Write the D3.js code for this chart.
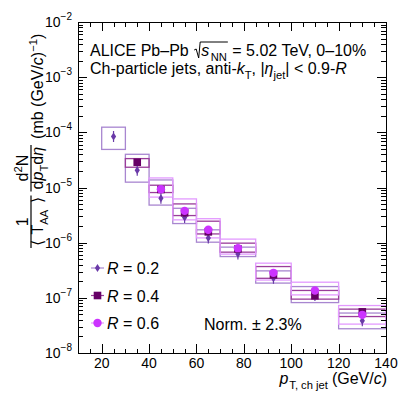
<!DOCTYPE html>
<html>
<head>
<meta charset="utf-8">
<script src="https://cdn.jsdelivr.net/npm/d3@7"></script>
<style>
  body { margin: 0; background: #fff; }
  svg { font-family: "Liberation Sans", Arial, sans-serif; }
  svg text { white-space: pre; }
  .axis path, .axis line { stroke: #000; shape-rendering: crispEdges; }
</style>
</head>
<body>
<script>
// jet pT bins (GeV/c)
var binLo = [20, 30, 40, 50, 60, 70, 85, 100, 120]
var binHi = [30, 40, 50, 60, 70, 85, 100, 120, 140]

// R = 0.2 : value, systematic box low / high
var r02   = [8.4e-5, 2.05e-5, 6.4e-6, 2.85e-6, 1.22e-6, 6.2e-7, 2.26e-7, 1.1e-7, 3.85e-8]
var r02Lo = [4.9e-5, 1.25e-5, 4.8e-6, 2.22e-6, 1.02e-6, 5.6e-7, 1.85e-7, 8.2e-8, 2.75e-8]
var r02Hi = [1.24e-4, 4.0e-5, 1.37e-5, 4.2e-6, 1.71e-6, 8.3e-7, 3.08e-7, 1.6e-7, 5.3e-8]

// R = 0.4
var r04   = [null, 2.87e-5, 9.2e-6, 3.47e-6, 1.57e-6, 7.7e-7, 2.61e-7, 1.09e-7, 5.57e-8]
var r04Lo = [null, 2.33e-5, 8.1e-6, 3.1e-6, 1.44e-6, 6.73e-7, 2.26e-7, 9.47e-8, 4.58e-8]
var r04Hi = [null, 3.34e-5, 1.1e-5, 5.04e-6, 2.45e-6, 9.8e-7, 3.69e-7, 1.36e-7, 6.24e-8]

// R = 0.6
var r06   = [null, null, 9.3e-6, 3.77e-6, 1.71e-6, 7.95e-7, 2.84e-7, 1.36e-7, 4.92e-8]
var r06Lo = [null, null, 6.7e-6, 2.59e-6, 1.22e-6, 6.2e-7, 2.1e-7, 1.13e-7, 3.34e-8]
var r06Hi = [null, null, 1.49e-5, 6.21e-6, 2.72e-6, 1.16e-6, 4.25e-7, 1.92e-7, 7.25e-8]

var xMajor = [20, 40, 60, 80, 100, 120, 140]
var yDecades = [-8, -7, -6, -5, -4, -3, -2]
var legendLabels = ["0.2", "0.4", "0.6"]

var width = 407, height = 397
var margin = {top: 22, right: 21, bottom: 44, left: 78}
var x0 = margin.left, x1 = width - margin.right
var y0 = height - margin.bottom, y1 = margin.top

var x = d3.scaleLinear().domain([10, 140]).range([x0, x1])
var y = d3.scaleLog().domain([1e-8, 1e-2]).range([y0, y1])

var svg = d3.select("body").append("svg")
    .attr("width", width)
    .attr("height", height)

// rich text: sequence of segments, returns width
function rich(g, xs, ys, segs, size) {
  var cx = xs
  segs.forEach(function(s) {
    var fs = (s.sub || s.sup) ? size * 0.7 : size
    var dy = s.sub ? size * 0.32 : (s.sup ? -size * 0.4 : 0)
    var t = g.append("text")
      .attr("x", cx).attr("y", ys + dy)
      .attr("xml:space", "preserve")
      .style("font-size", fs + "px")
      .style("font-style", s.i ? "italic" : "normal")
      .text(s.t)
    s.x = cx
    s.w = t.node().getComputedTextLength()
    cx += s.w + (s.gap || 0)
  })
  return cx - xs
}

// ---- systematic boxes
var series = [
  {v: r02, lo: r02Lo, hi: r02Hi, col: "#6a3aa8", box: "#a886d0", shape: "diamond"},
  {v: r04, lo: r04Lo, hi: r04Hi, col: "#660066", box: "#9a3d9a", shape: "square"},
  {v: r06, lo: r06Lo, hi: r06Hi, col: "#cc33ff", box: "#e39aff", shape: "circle"}
]

series.forEach(function(s) {
  var idx = d3.range(binLo.length).filter(function(i) { return s.v[i] != null })
  svg.append("g").selectAll("rect")
    .data(idx).enter().append("rect")
    .attr("x", function(i) { return x(binLo[i]) })
    .attr("width", function(i) { return x(binHi[i]) - x(binLo[i]) })
    .attr("y", function(i) { return y(s.hi[i]) })
    .attr("height", function(i) { return y(s.lo[i]) - y(s.hi[i]) })
    .attr("fill", "none")
    .attr("stroke", s.box)
    .attr("stroke-width", 1.3)
})

function drawMarker(g, shape, cx, cy, col) {
  if (shape == "diamond") {
    g.append("line").attr("x1", cx).attr("x2", cx).attr("y1", cy - 5.5).attr("y2", cy + 5.5)
      .attr("stroke", col).attr("stroke-width", 1.2)
    g.append("path").attr("d", "M" + cx + "," + (cy - 4) + "L" + (cx + 2.6) + "," + cy +
      "L" + cx + "," + (cy + 4) + "L" + (cx - 2.6) + "," + cy + "Z").attr("fill", col)
  } else if (shape == "square") {
    g.append("rect").attr("x", cx - 3.8).attr("y", cy - 3.8).attr("width", 7.6).attr("height", 7.6)
      .attr("fill", col)
  } else {
    g.append("circle").attr("cx", cx).attr("cy", cy).attr("r", 4.2).attr("fill", col)
  }
}

series.forEach(function(s) {
  var g = svg.append("g")
  binLo.forEach(function(lo, i) {
    if (s.v[i] == null) return
    drawMarker(g, s.shape, x((lo + binHi[i]) / 2), y(s.v[i]), s.col)
  })
})

// ---- axes (ticks inside the frame)
var xMinor = d3.range(10, 141, 5).filter(function(d) { return xMajor.indexOf(d) < 0 })
var yMajor = yDecades.map(function(e) { return Math.pow(10, e) })
var yMinor = []
yDecades.slice(0, -1).forEach(function(e) {
  for (var k = 2; k < 10; k++) yMinor.push(k * Math.pow(10, e))
})

function addAxis(axis, tr) {
  svg.append("g").attr("class", "axis").attr("transform", tr).call(axis)
}
addAxis(d3.axisBottom(x).tickValues(xMinor).tickSize(-4.5).tickSizeOuter(0).tickFormat(""), "translate(0," + y0 + ")")
addAxis(d3.axisBottom(x).tickValues(xMajor).tickSize(-9).tickSizeOuter(0).tickFormat(""), "translate(0," + y0 + ")")
addAxis(d3.axisTop(x).tickValues(xMinor).tickSize(-4.5).tickSizeOuter(0).tickFormat(""), "translate(0," + y1 + ")")
addAxis(d3.axisTop(x).tickValues(xMajor).tickSize(-9).tickSizeOuter(0).tickFormat(""), "translate(0," + y1 + ")")
addAxis(d3.axisLeft(y).tickValues(yMinor).tickSize(-5).tickSizeOuter(0).tickFormat(""), "translate(" + x0 + ",0)")
addAxis(d3.axisLeft(y).tickValues(yMajor).tickSize(-9).tickSizeOuter(0).tickFormat(""), "translate(" + x0 + ",0)")
addAxis(d3.axisRight(y).tickValues(yMinor).tickSize(-5).tickSizeOuter(0).tickFormat(""), "translate(" + x1 + ",0)")
addAxis(d3.axisRight(y).tickValues(yMajor).tickSize(-9).tickSizeOuter(0).tickFormat(""), "translate(" + x1 + ",0)")
svg.selectAll(".axis .domain").attr("stroke-width", 1.2)

// tick labels
svg.append("g").selectAll("text")
  .data(xMajor).enter().append("text")
  .attr("x", function(d) { return x(d) })
  .attr("y", 368)
  .attr("text-anchor", "middle")
  .style("font-size", "14px")
  .text(function(d) { return d })

var yl = svg.append("g").selectAll("text")
  .data(yDecades).enter().append("text")
  .attr("x", 72)
  .attr("y", function(e) { return y(Math.pow(10, e)) + 5 })
  .attr("text-anchor", "end")
  .style("font-size", "14px")
yl.append("tspan").text("10")
yl.append("tspan").attr("dy", -7).style("font-size", "10px").text(function(e) { return "\u2212" + (-e) })

// x axis title
var xt = svg.append("g")
var xw = rich(xt, 0, 384, [
  {t: "p", i: true, gap: 1}, {t: "T, ch jet", sub: true, gap: 4}, {t: "(GeV/"}, {t: "c", i: true}, {t: ")"}
], 16)
xt.attr("transform", "translate(" + (x1 + 1 - xw) + ",0)")

// y axis title (rotated)
var yt = svg.append("g").attr("transform", "translate(43,248) rotate(-90)")
function frac(g, xs, num, den, size) {
  var gn = g.append("g"), gd = g.append("g")
  var wn = rich(gn, 0, -15, num, size)
  var wd = rich(gd, 0, 0, den, size)
  var w = Math.max(wn, wd) + 4
  gn.attr("transform", "translate(" + (xs + (w - wn) / 2) + ",0)")
  gd.attr("transform", "translate(" + (xs + (w - wd) / 2) + ",0)")
  g.append("line").attr("x1", xs).attr("x2", xs + w).attr("y1", -12).attr("y2", -12)
    .attr("stroke", "#000").attr("stroke-width", 1.2)
  return w
}
var w1 = frac(yt, 0, [{t: "1"}], [{t: "\u27E8 ", gap: 1}, {t: "T"}, {t: "AA", sub: true, gap: 2}, {t: " \u27E9"}], 16)
var w2 = frac(yt, w1 + 4, [{t: "d"}, {t: "2", sup: true}, {t: "N"}],
  [{t: "d"}, {t: "p", i: true}, {t: "T", sub: true}, {t: "d"}, {t: "\u03B7", i: true}], 16)
rich(yt, w1 + w2 + 10, 0, [{t: "(mb (GeV/"}, {t: "c", i: true}, {t: ")"}, {t: "\u22121", sup: true}, {t: ")"}], 16)

// header text
var ht = svg.append("g")
var hx = 90 + rich(ht, 90, 56, [{t: "ALICE Pb\u2013Pb "}], 16)
var rootStart = hx
hx += 8
var rw = rich(ht, hx, 56, [{t: "s", i: true, gap: 1.5}, {t: "NN", sub: true}], 16)
ht.append("path")
  .attr("d", "M" + (rootStart + 1) + ",50 L" + (rootStart + 3) + ",49 L" + (rootStart + 5.5) + ",58 L" +
    (rootStart + 7) + ",42 L" + (hx + rw + 1) + ",42")
  .attr("fill", "none").attr("stroke", "#000").attr("stroke-width", 1)
rich(ht, hx + rw + 1, 56, [{t: " = 5.02 TeV, 0\u201310%"}], 16)

rich(ht, 90, 74, [
  {t: "Ch-particle jets, anti-"}, {t: "k", i: true}, {t: "T", sub: true}, {t: ", |"},
  {t: "\u03B7", i: true}, {t: "jet", sub: true}, {t: "| < 0.9-"}, {t: "R", i: true}
], 16)

// legend
var lg = svg.append("g")
series.forEach(function(s, i) {
  var ly = 268 + i * 27.5
  lg.append("line").attr("x1", 91).attr("x2", 104).attr("y1", ly).attr("y2", ly)
    .attr("stroke", s.box).attr("stroke-width", 1.2)
  if (s.shape == "diamond") {
    lg.append("path").attr("d", "M97.5," + (ly - 4) + "L100.1," + ly + "L97.5," + (ly + 4) + "L94.9," + ly + "Z")
      .attr("fill", s.col)
  } else {
    drawMarker(lg, s.shape, 97.5, ly, s.col)
  }
  rich(lg, 107, ly + 6, [{t: "R", i: true}, {t: " = " + legendLabels[i]}], 16)
})

svg.append("text").attr("x", 204).attr("y", 330).style("font-size", "16px").text("Norm. \u00B1 2.3%")
</script>
</body>
</html>
